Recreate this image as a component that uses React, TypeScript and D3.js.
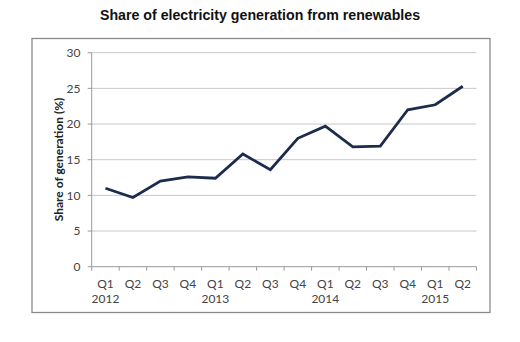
import React from "react";
import * as d3 from "d3";

const quarters = ["Q1","Q2","Q3","Q4","Q1","Q2","Q3","Q4","Q1","Q2","Q3","Q4","Q1","Q2"];
const years = ["2012","","","","2013","","","","2014","","","","2015",""];
const shares = [11.0, 9.7, 12.0, 12.6, 12.4, 15.8, 13.6, 18.0, 19.7, 16.8, 16.9, 22.0, 22.7, 25.3];
const yTicks = [0, 5, 10, 15, 20, 25, 30];

export default function App() {
  const W = 520, H = 342;
  const left = 91.7, right = 476.5, top = 52.7, bottom = 266.7;
  const idx = quarters.map((_, i) => i);
  const x = d3.scaleBand<number>().domain(idx).range([left, right]).padding(0);
  const y = d3.scaleLinear().domain([0, 30]).range([bottom, top]);
  const line = d3.line<number>()
    .x((_, i) => (x(i) as number) + x.bandwidth() / 2)
    .y((d) => y(d));
  const tickXs = d3.range(quarters.length + 1).map((i) => left + i * x.bandwidth());
  const font = "Lato, 'Open Sans', sans-serif";
  return (
    <svg width={W} height={H} style={{ position: "absolute", left: 0, top: 0, background: "#fff" }}>
      <text x={260} y={20} textAnchor="middle" fontFamily="'Liberation Sans', Arial, sans-serif" fontWeight="bold" fontSize={14.2} fill="#111">
        Share of electricity generation from renewables
      </text>
      <rect x={32} y={38.5} width={458} height={274} fill="#fff" stroke="#8a8a8a" strokeWidth={1.3} />
      {yTicks.map((t) => (
        <g key={t}>
          {t > 0 && <line x1={left} x2={right} y1={y(t)} y2={y(t)} stroke="#c8c8c8" strokeWidth={1} />}
          <line x1={left - 4} x2={left} y1={y(t)} y2={y(t)} stroke="#999" strokeWidth={1} />
          <text x={80.5} y={y(t)} dy="0.35em" textAnchor="end" fontFamily={font} fontSize={12} fill="#444">{t}</text>
        </g>
      ))}
      <line x1={left} x2={left} y1={top} y2={bottom} stroke="#999" strokeWidth={1} />
      <line x1={left} x2={right} y1={bottom} y2={bottom} stroke="#999" strokeWidth={1} />
      {tickXs.map((tx, i) => (
        <line key={i} x1={tx} x2={tx} y1={bottom} y2={bottom + 4} stroke="#999" strokeWidth={1} />
      ))}
      {quarters.map((q, i) => (
        <g key={i}>
          <text x={(x(i) as number) + x.bandwidth() / 2} y={287.5} textAnchor="middle" fontFamily={font} fontSize={12} fill="#444">{q}</text>
          {years[i] && (
            <text x={(x(i) as number) + x.bandwidth() / 2} y={302.5} textAnchor="middle" fontFamily={font} fontSize={12} fill="#444">{years[i]}</text>
          )}
        </g>
      ))}
      <text transform={`translate(59,159.5) rotate(-90)`} textAnchor="middle" dy="0.35em" fontFamily={font} fontWeight="bold" fontSize={12} fill="#222">
        Share of generation (%)
      </text>
      <path d={line(shares) || ""} fill="none" stroke="#1c2c4c" strokeWidth={2.8} strokeLinejoin="miter" />
    </svg>
  );
}
